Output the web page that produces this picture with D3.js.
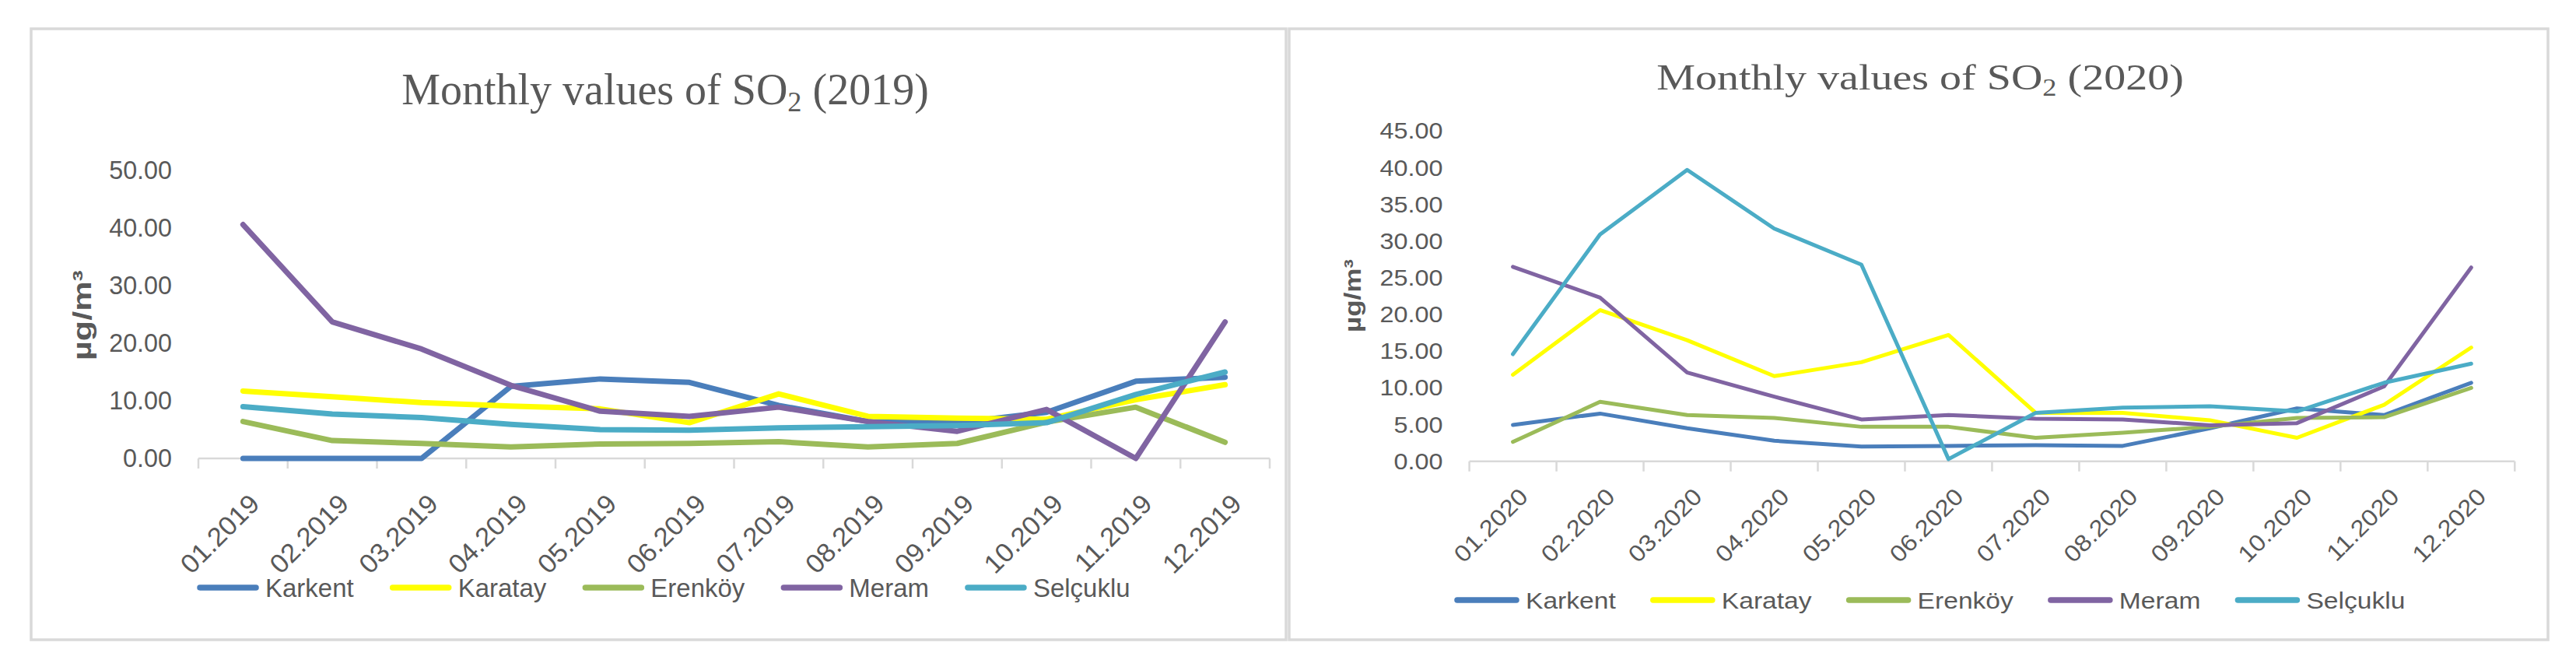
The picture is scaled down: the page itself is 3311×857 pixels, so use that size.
<!DOCTYPE html>
<html>
<head>
<meta charset="utf-8">
<script src="https://cdn.jsdelivr.net/npm/d3@7"></script>
<style>
  html, body { margin: 0; padding: 0; background: #ffffff; }
  svg { display: block; }
</style>
</head>
<body>
<svg id="chart" width="3311" height="857"></svg>
<script>
// ---------------- DATA ----------------
const seriesNames = ["Karkent", "Karatay", "Erenköy", "Meram", "Selçuklu"];
const seriesColors = ["#4a7ebb", "#ffff00", "#9bbb59", "#8064a2", "#4bacc6"];

const months2019 = ["01.2019","02.2019","03.2019","04.2019","05.2019","06.2019","07.2019","08.2019","09.2019","10.2019","11.2019","12.2019"];
const months2020 = ["01.2020","02.2020","03.2020","04.2020","05.2020","06.2020","07.2020","08.2020","09.2020","10.2020","11.2020","12.2020"];

const karkent2019  = [0.0, 0.0, 0.0, 12.5, 13.8, 13.2, 9.2, 6.4, 6.2, 8.0, 13.4, 14.1];
const karatay2019  = [11.7, 10.7, 9.7, 9.1, 8.6, 6.2, 11.2, 7.3, 7.0, 6.8, 10.2, 12.8];
const erenkoy2019  = [6.4, 3.1, 2.6, 2.0, 2.5, 2.6, 2.9, 2.0, 2.6, 6.3, 8.9, 2.8];
const meram2019    = [40.6, 23.7, 19.0, 12.7, 8.2, 7.3, 8.9, 6.4, 4.7, 8.5, 0.0, 23.7];
const selcuklu2019 = [9.0, 7.7, 7.1, 5.9, 5.0, 4.9, 5.3, 5.5, 5.7, 6.2, 11.1, 15.0];

const karkent2020  = [4.95, 6.5, 4.5, 2.8, 2.0, 2.1, 2.2, 2.1, 4.5, 7.2, 6.3, 10.7];
const karatay2020  = [11.8, 20.6, 16.5, 11.6, 13.5, 17.2, 6.6, 6.6, 5.6, 3.2, 7.7, 15.5];
const erenkoy2020  = [2.65, 8.1, 6.3, 5.9, 4.7, 4.7, 3.2, 3.9, 4.7, 5.9, 6.0, 10.0];
const meram2020    = [26.5, 22.3, 12.1, 8.8, 5.7, 6.3, 5.8, 5.7, 4.9, 5.2, 10.2, 26.4];
const selcuklu2020 = [14.6, 30.9, 39.7, 31.7, 26.8, 0.3, 6.6, 7.3, 7.5, 6.8, 10.7, 13.3];

const yTicks2019 = [0, 10, 20, 30, 40, 50];
const yTicks2020 = [0, 5, 10, 15, 20, 25, 30, 35, 40, 45];
const yLabelText = "µg/m³";
const titleStart = "Monthly values of SO";
const titleSub = "2";

// ---------------- LAYOUT ----------------
const panels = [
  {
    year: "2019", months: months2019,
    values: [karkent2019, karatay2019, erenkoy2019, meram2019, selcuklu2019],
    yTicks: yTicks2019, yMax: 50,
    box: {x0: 40, x1: 1653, y0: 37, y1: 822},
    plot: {left: 255, right: 1632, top: 219, bottom: 589},
    title: {x: 855, y: 134, size: 56, sy: 1.0},
    yLab: {x: 105, y: 405, size: 34, len: 116},
    tick: {size: 34, stretch: 0.95, pad: 34},
    xl: {size: 34, stretch: 1.03, ox: 14.6, oy: 52, angle: 45},
    legend: {x: 253, y: 755, size: 34, stretch: 0.97, gap: 46, lineLen: 80},
    lineWidth: 7
  },
  {
    year: "2020", months: months2020,
    values: [karkent2020, karatay2020, erenkoy2020, meram2020, selcuklu2020],
    yTicks: yTicks2020, yMax: 45,
    box: {x0: 1657, x1: 3275, y0: 37, y1: 822},
    plot: {left: 1888.6, right: 3232.3, top: 168.3, bottom: 592.7},
    title: {x: 2468, y: 115, size: 56, sy: 0.84},
    yLab: {x: 1738, y: 380, size: 30, len: 94},
    tick: {size: 30, stretch: 1.08, pad: 34},
    xl: {size: 30, stretch: 1.1, ox: 13.6, oy: 40, angle: 45},
    legend: {x: 1869, y: 771, size: 30, stretch: 1.12, gap: 44, lineLen: 84},
    lineWidth: 5
  }
];

const textColor = "#595959";
const gridColor = "#d9d9d9";
const sans = "'Liberation Sans', Arial, sans-serif";
const serif = "'Liberation Serif', 'Times New Roman', serif";

const svg = d3.select("#chart");

// squeeze/stretch text along its baseline; returns last resulting width
function fit(sel, stretch) {
  let out = 0;
  sel.each(function () {
    const w = this.getComputedTextLength();
    out = w * stretch;
    d3.select(this).attr("textLength", out).attr("lengthAdjust", "spacingAndGlyphs");
  });
  return out;
}

panels.forEach(p => {
  const g = svg.append("g");

  // panel border
  g.append("rect")
    .attr("x", p.box.x0).attr("y", p.box.y0)
    .attr("width", p.box.x1 - p.box.x0).attr("height", p.box.y1 - p.box.y0)
    .attr("fill", "#ffffff").attr("stroke", gridColor).attr("stroke-width", 3.5);

  // scales
  const x = d3.scaleBand().domain(p.months).range([p.plot.left, p.plot.right]).padding(0);
  const y = d3.scaleLinear().domain([0, p.yMax]).range([p.plot.bottom, p.plot.top]);

  // title
  const t = g.append("text")
    .attr("transform", `translate(${p.title.x},${p.title.y}) scale(1,${p.title.sy})`)
    .attr("text-anchor", "middle")
    .attr("font-family", serif).attr("font-size", p.title.size)
    .attr("fill", textColor);
  t.append("tspan").text(titleStart);
  t.append("tspan").attr("font-size", p.title.size * 0.65).attr("dy", p.title.size * 0.16).text(titleSub);
  t.append("tspan").attr("dy", -p.title.size * 0.16).text(" (" + p.year + ")");

  // y axis (labels only)
  const yAxis = d3.axisLeft(y).tickValues(p.yTicks).tickFormat(d3.format(".2f")).tickSize(0).tickPadding(p.tick.pad);
  const yg = g.append("g").attr("transform", `translate(${p.plot.left},0)`).call(yAxis);
  yg.select(".domain").remove();
  yg.selectAll("text")
    .attr("font-family", sans).attr("font-size", p.tick.size)
    .attr("fill", textColor);
  fit(yg.selectAll("text"), p.tick.stretch);

  // x axis line and ticks at band boundaries
  const boundaries = p.months.map(m => x(m)).concat([x.range()[1]]);
  g.append("line")
    .attr("x1", p.plot.left).attr("x2", p.plot.right)
    .attr("y1", p.plot.bottom).attr("y2", p.plot.bottom)
    .attr("stroke", gridColor).attr("stroke-width", 2.5);
  g.selectAll(".xtick").data(boundaries).enter().append("line")
    .attr("x1", d => d).attr("x2", d => d)
    .attr("y1", p.plot.bottom).attr("y2", p.plot.bottom + 13)
    .attr("stroke", gridColor).attr("stroke-width", 2.5);

  // x labels
  const xl = g.selectAll(".xl").data(p.months).enter().append("text")
    .attr("transform", d => `translate(${x(d) + x.bandwidth() / 2 + p.xl.ox},${p.plot.bottom + p.xl.oy}) rotate(${-p.xl.angle})`)
    .attr("text-anchor", "end").attr("dy", "0.35em")
    .attr("font-family", sans).attr("font-size", p.xl.size)
    .attr("fill", textColor)
    .text(d => d);
  fit(xl, p.xl.stretch);

  // y label
  const yl = g.append("text")
    .attr("transform", `translate(${p.yLab.x},${p.yLab.y}) rotate(-90)`)
    .attr("text-anchor", "middle").attr("dy", "0.35em")
    .attr("font-family", sans).attr("font-size", p.yLab.size).attr("font-weight", "bold")
    .attr("fill", textColor)
    .text(yLabelText);
  yl.attr("textLength", p.yLab.len).attr("lengthAdjust", "spacingAndGlyphs");

  // lines
  const line = d3.line().x((d, i) => x(p.months[i]) + x.bandwidth() / 2).y(d => y(d));
  p.values.forEach((vals, si) => {
    g.append("path")
      .datum(vals)
      .attr("d", line)
      .attr("fill", "none")
      .attr("stroke", seriesColors[si])
      .attr("stroke-width", p.lineWidth)
      .attr("stroke-linejoin", "round")
      .attr("stroke-linecap", "round");
  });

  // legend (flow layout)
  let cx = p.legend.x;
  seriesNames.forEach((name, si) => {
    g.append("line")
      .attr("x1", cx + 4).attr("x2", cx + p.legend.lineLen - 4)
      .attr("y1", p.legend.y).attr("y2", p.legend.y)
      .attr("stroke", seriesColors[si]).attr("stroke-width", 7.5)
      .attr("stroke-linecap", "round");
    const lt = g.append("text")
      .attr("x", cx + p.legend.lineLen + 8).attr("y", p.legend.y)
      .attr("dy", "0.35em")
      .attr("font-family", sans).attr("font-size", p.legend.size)
      .attr("fill", textColor)
      .text(name);
    const w = fit(lt, p.legend.stretch);
    cx = cx + p.legend.lineLen + 8 + w + p.legend.gap;
  });
});
</script>
</body>
</html>
